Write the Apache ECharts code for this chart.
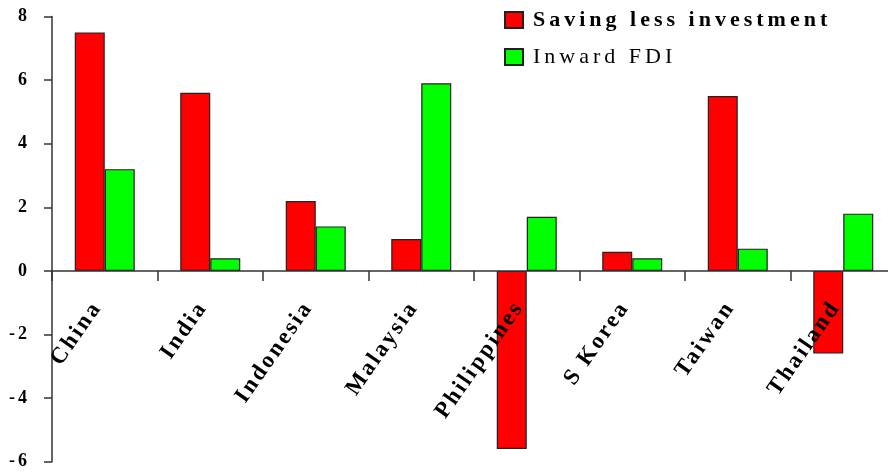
<!DOCTYPE html>
<html>
<head>
<meta charset="utf-8">
<style>
  html, body { margin: 0; padding: 0; background: #fff; }
  #chart { width: 888px; height: 472px; }
</style>
<script src="https://cdn.jsdelivr.net/npm/echarts@6/dist/echarts.min.js"></script>
</head>
<body>
<div id="chart"></div>
<script>
// Economies on the category axis
var categories = ['China', 'India', 'Indonesia', 'Malaysia', 'Philippines', 'S Korea', 'Taiwan', 'Thailand'];
// Saving less investment (% of GDP)
var savingLessInvestment = [7.5, 5.6, 2.2, 1.0, -5.6, 0.6, 5.5, -2.6];
// Inward FDI (% of GDP)
var inwardFDI = [3.2, 0.4, 1.4, 5.9, 1.7, 0.4, 0.7, 1.8];
// Value axis settings
var yMin = -6, yMax = 8, yStep = 2;

// Spaced-out lettering for text drawn on the canvas, keyed by font size
var letterSpacingBySize = { 18: '3px', 22: '4px', 23: '2.5px' };
(function () {
  var proto = CanvasRenderingContext2D.prototype;
  var fill = proto.fillText;
  proto.fillText = function () {
    if ('letterSpacing' in this) {
      var m = /(\d+(?:\.\d+)?)px/.exec(this.font || '');
      var size = m ? Math.round(parseFloat(m[1])) : 0;
      this.letterSpacing = letterSpacingBySize[size] || '3px';
    }
    return fill.apply(this, arguments);
  };
})();

var serif = '"Liberation Serif", "Times New Roman", serif';

// plot box: y axis at x=52, value range -6..8 spans y=16.5..461.7
var gridTop = 16.5, gridBottom = 10.3, plotHeight = 472 - gridTop - gridBottom;
var zeroDrop = plotHeight * (0 - yMin) / (yMax - yMin); // distance from zero line to the bottom edge

var chart = echarts.init(document.getElementById('chart'), null, { renderer: 'canvas' });

chart.setOption({
  backgroundColor: '#ffffff',
  animation: false,
  grid: {
    left: 52, right: -8, top: gridTop, bottom: gridBottom,
    containLabel: false,
    outerBoundsMode: 'none'
  },
  legend: {
    orient: 'vertical',
    left: 504,
    top: 9,
    padding: 0,
    icon: 'rect',
    itemWidth: 18,
    itemHeight: 16,
    itemGap: 15,
    textStyle: { fontFamily: serif, fontSize: 22, color: '#000', padding: [0, 0, 0, 5] },
    data: [
      { name: 'Saving less investment', textStyle: { fontWeight: 'bold' } },
      { name: 'Inward FDI', textStyle: { fontWeight: 'normal' } }
    ]
  },
  xAxis: [
    {
      // zero line with boundary ticks
      type: 'category',
      data: categories,
      z: 10,
      axisLine: { onZero: true, lineStyle: { color: '#333', width: 1.5 } },
      axisTick: { show: true, length: 10, interval: 0, lineStyle: { color: '#333', width: 1.5 } },
      axisLabel: { show: false },
      splitLine: { show: false }
    },
    {
      // category names hanging below the zero line
      type: 'category',
      data: categories,
      position: 'bottom',
      offset: -zeroDrop,
      z: 10,
      axisLine: { show: false, onZero: false },
      axisTick: { show: false },
      axisLabel: {
        interval: 0,
        rotate: 55,
        margin: 22,
        padding: [0, 13, 0, 0],
        color: '#000',
        fontFamily: serif,
        fontWeight: 'bold',
        fontSize: 23
      },
      splitLine: { show: false }
    }
  ],
  yAxis: {
    type: 'value',
    min: yMin,
    max: yMax,
    interval: yStep,
    axisLine: { show: true, lineStyle: { color: '#333', width: 1.5 } },
    axisTick: { show: true, length: 8, lineStyle: { color: '#333', width: 1.5 } },
    axisLabel: {
      margin: 22,
      color: '#000',
      fontFamily: serif,
      fontWeight: 'bold',
      fontSize: 18
    },
    splitLine: { show: false }
  },
  series: [
    {
      name: 'Saving less investment',
      type: 'bar',
      xAxisIndex: 0,
      data: savingLessInvestment,
      barWidth: 30,
      barGap: '0%',
      itemStyle: { color: '#ff0000', borderColor: '#222', borderWidth: 1.2 }
    },
    {
      name: 'Inward FDI',
      type: 'bar',
      xAxisIndex: 0,
      data: inwardFDI,
      barWidth: 30,
      barGap: '0%',
      itemStyle: { color: '#00ff00', borderColor: '#222', borderWidth: 1.2 }
    }
  ]
});
</script>
</body>
</html>
